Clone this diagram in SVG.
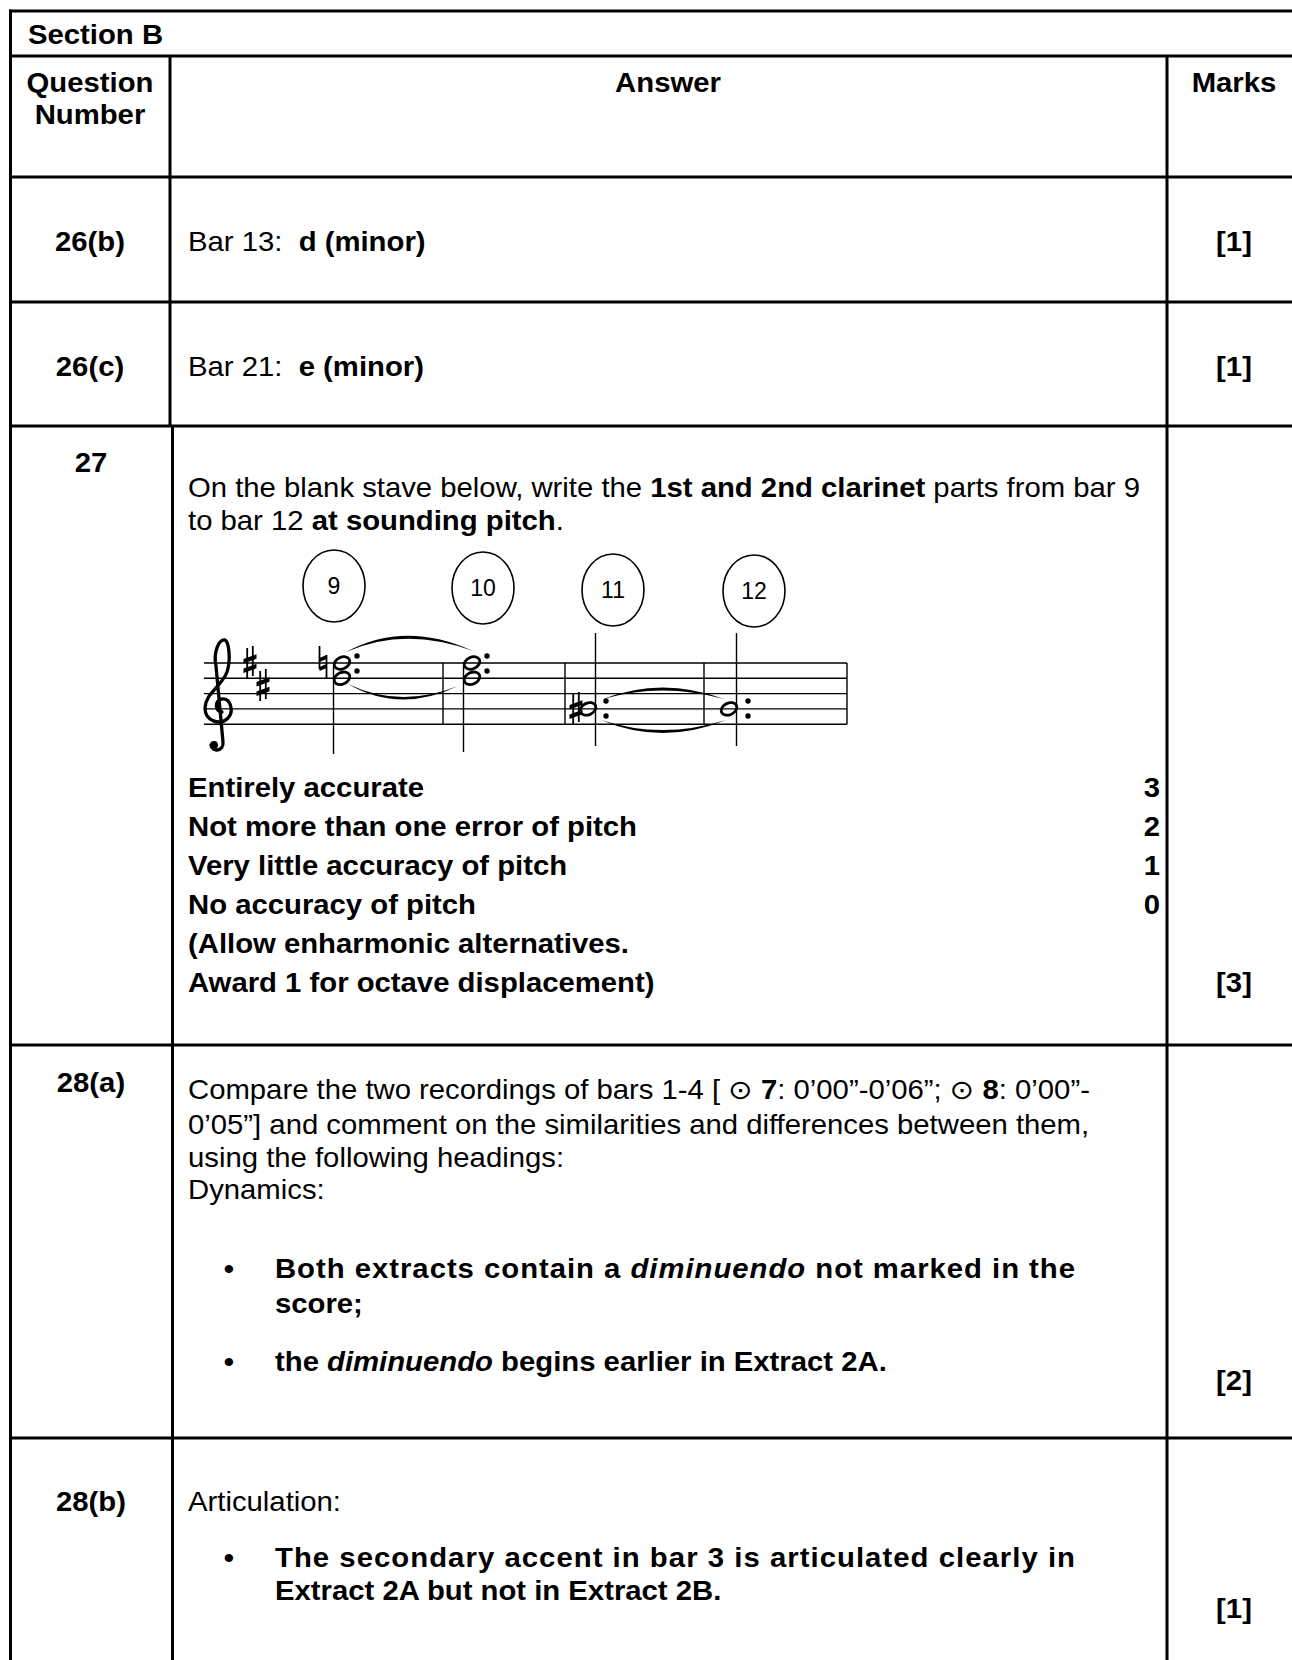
<svg xmlns="http://www.w3.org/2000/svg" xmlns:xlink="http://www.w3.org/1999/xlink" width="1292" height="1660" viewBox="0 0 1292 1660">
<style>
.t{font-family:"Liberation Sans",Arial,"DejaVu Sans",sans-serif;font-size:27px;fill:#000}
.b{font-weight:bold}
.i{font-style:italic}
.c{text-anchor:middle}
.e{text-anchor:end}
.grid{stroke:#000;stroke-width:3;fill:none}
.staff{stroke:#000;stroke-width:1.4;fill:none}
.num{font-family:"Liberation Sans",Arial,sans-serif;font-size:23px;fill:#000;text-anchor:middle}
.ring{fill:none;stroke:#000;stroke-width:1.6}
</style>
<defs>
<g id="half"><ellipse cx="0" cy="0" rx="8.2" ry="5.8" transform="rotate(-25)" fill="none" stroke="#000" stroke-width="2.8"/></g>
<g id="sharp"><path d="M-2.8 -15 V15 M2.8 -17 V13" stroke="#000" stroke-width="1.8" fill="none"/><path d="M-6.5 -4 L6.5 -8.8 V-4.3 L-6.5 0.5 Z M-6.5 5.5 L6.5 0.7 V5.2 L-6.5 10 Z" fill="#000"/></g>
<g id="natural"><path d="M-3.5 -16 V7 M3.5 -7 V16" stroke="#000" stroke-width="1.8" fill="none"/><path d="M-3.5 -4 L3.5 -7 V-3 L-3.5 0 Z M-3.5 5 L3.5 2 V6 L-3.5 9 Z" fill="#000"/></g>
</defs>
<rect width="1292" height="1660" fill="#fff"/>
<g id="table">
<path class="grid" d="M9 11 H1292 M9 56 H1292 M9 177 H1292 M9 302 H1292 M9 426 H1292 M9 1045 H1292 M9 1438 H1292"/>
<path class="grid" d="M10.5 9.5 V1660 M170 56 V426 M172.5 426 V1660 M1167 56 V1660"/>
</g>
<g id="stave">
<path class="staff" d="M204 663 H847 M204 678.3 H847 M204 693.6 H847 M204 708.9 H847 M204 724.2 H847"/>
<path class="staff" d="M443 663 V724.2 M565 663 V724.2 M704 663 V724.2 M847 663 V724.2"/>
<path d="M222 712 C215 712 214 700 222 699 C231 698 234 712 228 718 C220 726 205 721 205 708 C205 694 222 686 227 672 C231 660 229 642 225 640 C219 639 213 652 216 666 L223 742 C224 751 212 753 211 745" fill="none" stroke="#000" stroke-width="3.3" stroke-linecap="round"/>
<circle cx="214" cy="745" r="4" fill="#000"/>
<use xlink:href="#sharp" x="250" y="663"/>
<use xlink:href="#sharp" x="263" y="686"/>
<use xlink:href="#natural" x="323" y="662"/>
<use xlink:href="#half" x="342" y="663"/>
<use xlink:href="#half" x="342" y="678.3"/>
<path class="staff" d="M333.5 666 V754"/>
<circle cx="357" cy="656" r="2.7"/><circle cx="357" cy="671" r="2.7"/>
<use xlink:href="#half" x="472" y="663"/>
<use xlink:href="#half" x="472" y="678.3"/>
<path class="staff" d="M463.5 666 V752"/>
<circle cx="487" cy="656" r="2.7"/><circle cx="487" cy="671" r="2.7"/>
<path d="M346 652 Q405 620 473 651 Q405 626 346 652 Z" fill="#000"/>
<path d="M348 684 Q400 714 458 686 Q400 709 348 684 Z" fill="#000"/>
<use xlink:href="#sharp" x="576" y="709"/>
<use xlink:href="#half" x="588" y="708.9"/>
<path class="staff" d="M595.5 633 V746"/>
<circle cx="606" cy="701" r="2.7"/><circle cx="606" cy="716" r="2.7"/>
<path d="M603 699 Q662 676 724 699 Q662 682 603 699 Z" fill="#000"/>
<path d="M601 720 Q662 746 726 720 Q662 740 601 720 Z" fill="#000"/>
<use xlink:href="#half" x="729" y="708.9"/>
<path class="staff" d="M736.5 633 V746"/>
<circle cx="748" cy="701" r="2.7"/><circle cx="748" cy="716" r="2.7"/>
</g>
<g id="bar-numbers">
<ellipse class="ring" cx="334" cy="586" rx="31" ry="36"/><text class="num" x="334" y="594">9</text>
<ellipse class="ring" cx="483" cy="588" rx="31" ry="36"/><text class="num" x="483" y="596">10</text>
<ellipse class="ring" cx="613" cy="590" rx="31" ry="36"/><text class="num" x="613" y="598">11</text>
<ellipse class="ring" cx="754" cy="591" rx="31" ry="36"/><text class="num" x="754" y="599">12</text>
</g>
<g id="texts" transform="scale(1.085 1)">
<g id="header">
<text class="t b" x="25.81" y="44">Section B</text>
<text class="t b c" x="82.95" y="92">Question</text>
<text class="t b c" x="82.95" y="124">Number</text>
<text class="t b c" x="615.67" y="92">Answer</text>
<text class="t b c" x="1137.33" y="92">Marks</text>
</g>
<g id="q26b">
<text class="t b c" x="82.95" y="251">26(b)</text>
<text class="t" x="173.27" y="251" xml:space="preserve">Bar 13:  <tspan class="b">d (minor)</tspan></text>
<text class="t b c" x="1137.33" y="251">[1]</text>
</g>
<g id="q26c">
<text class="t b c" x="82.95" y="376">26(c)</text>
<text class="t" x="173.27" y="376" xml:space="preserve">Bar 21:  <tspan class="b">e (minor)</tspan></text>
<text class="t b c" x="1137.33" y="376">[1]</text>
</g>
<g id="q27">
<text class="t b c" x="83.87" y="472">27</text>
<text class="t" x="173.27" y="497" xml:space="preserve">On the blank stave below, write the <tspan class="b">1st and 2nd clarinet</tspan> parts from bar 9</text>
<text class="t" x="173.27" y="530" xml:space="preserve">to bar 12 <tspan class="b">at sounding pitch</tspan>.</text>
<text class="t b" x="173.27" y="797">Entirely accurate</text>
<text class="t b" x="173.27" y="836">Not more than one error of pitch</text>
<text class="t b" x="173.27" y="875">Very little accuracy of pitch</text>
<text class="t b" x="173.27" y="914">No accuracy of pitch</text>
<text class="t b" x="173.27" y="953">(Allow enharmonic alternatives.</text>
<text class="t b" x="173.27" y="992">Award 1 for octave displacement)</text>
<text class="t b e" x="1069.12" y="797">3</text>
<text class="t b e" x="1069.12" y="836">2</text>
<text class="t b e" x="1069.12" y="875">1</text>
<text class="t b e" x="1069.12" y="914">0</text>
<text class="t b c" x="1137.33" y="992">[3]</text>
</g>
<g id="q28a">
<text class="t b c" x="83.87" y="1092">28(a)</text>
<text class="t" x="173.27" y="1099" xml:space="preserve">Compare the two recordings of bars 1-4 [ ⊙ <tspan class="b">7</tspan>: 0’00”-0’06”; ⊙ <tspan class="b">8</tspan>: 0’00”-</text>
<text class="t" x="173.27" y="1134">0’05”] and comment on the similarities and differences between them,</text>
<text class="t" x="173.27" y="1167">using the following headings:</text>
<text class="t" x="173.27" y="1199">Dynamics:</text>
<text class="t b c" x="211.06" y="1278">•</text>
<text class="t b" x="253.46" y="1278" textLength="737.33" lengthAdjust="spacing" xml:space="preserve">Both extracts contain a <tspan class="i">diminuendo</tspan> not marked in the</text>
<text class="t b" x="253.46" y="1313">score;</text>
<text class="t b c" x="211.06" y="1371">•</text>
<text class="t b" x="253.46" y="1371" xml:space="preserve">the <tspan class="i">diminuendo</tspan> begins earlier in Extract 2A.</text>
<text class="t b c" x="1137.33" y="1390">[2]</text>
</g>
<g id="q28b">
<text class="t b c" x="83.87" y="1511">28(b)</text>
<text class="t" x="173.27" y="1511">Articulation:</text>
<text class="t b c" x="211.06" y="1567">•</text>
<text class="t b" x="253.46" y="1567" textLength="737.33" lengthAdjust="spacing">The secondary accent in bar 3 is articulated clearly in</text>
<text class="t b" x="253.46" y="1600">Extract 2A but not in Extract 2B.</text>
<text class="t b c" x="1137.33" y="1618">[1]</text>
</g>
</g>
</svg>
